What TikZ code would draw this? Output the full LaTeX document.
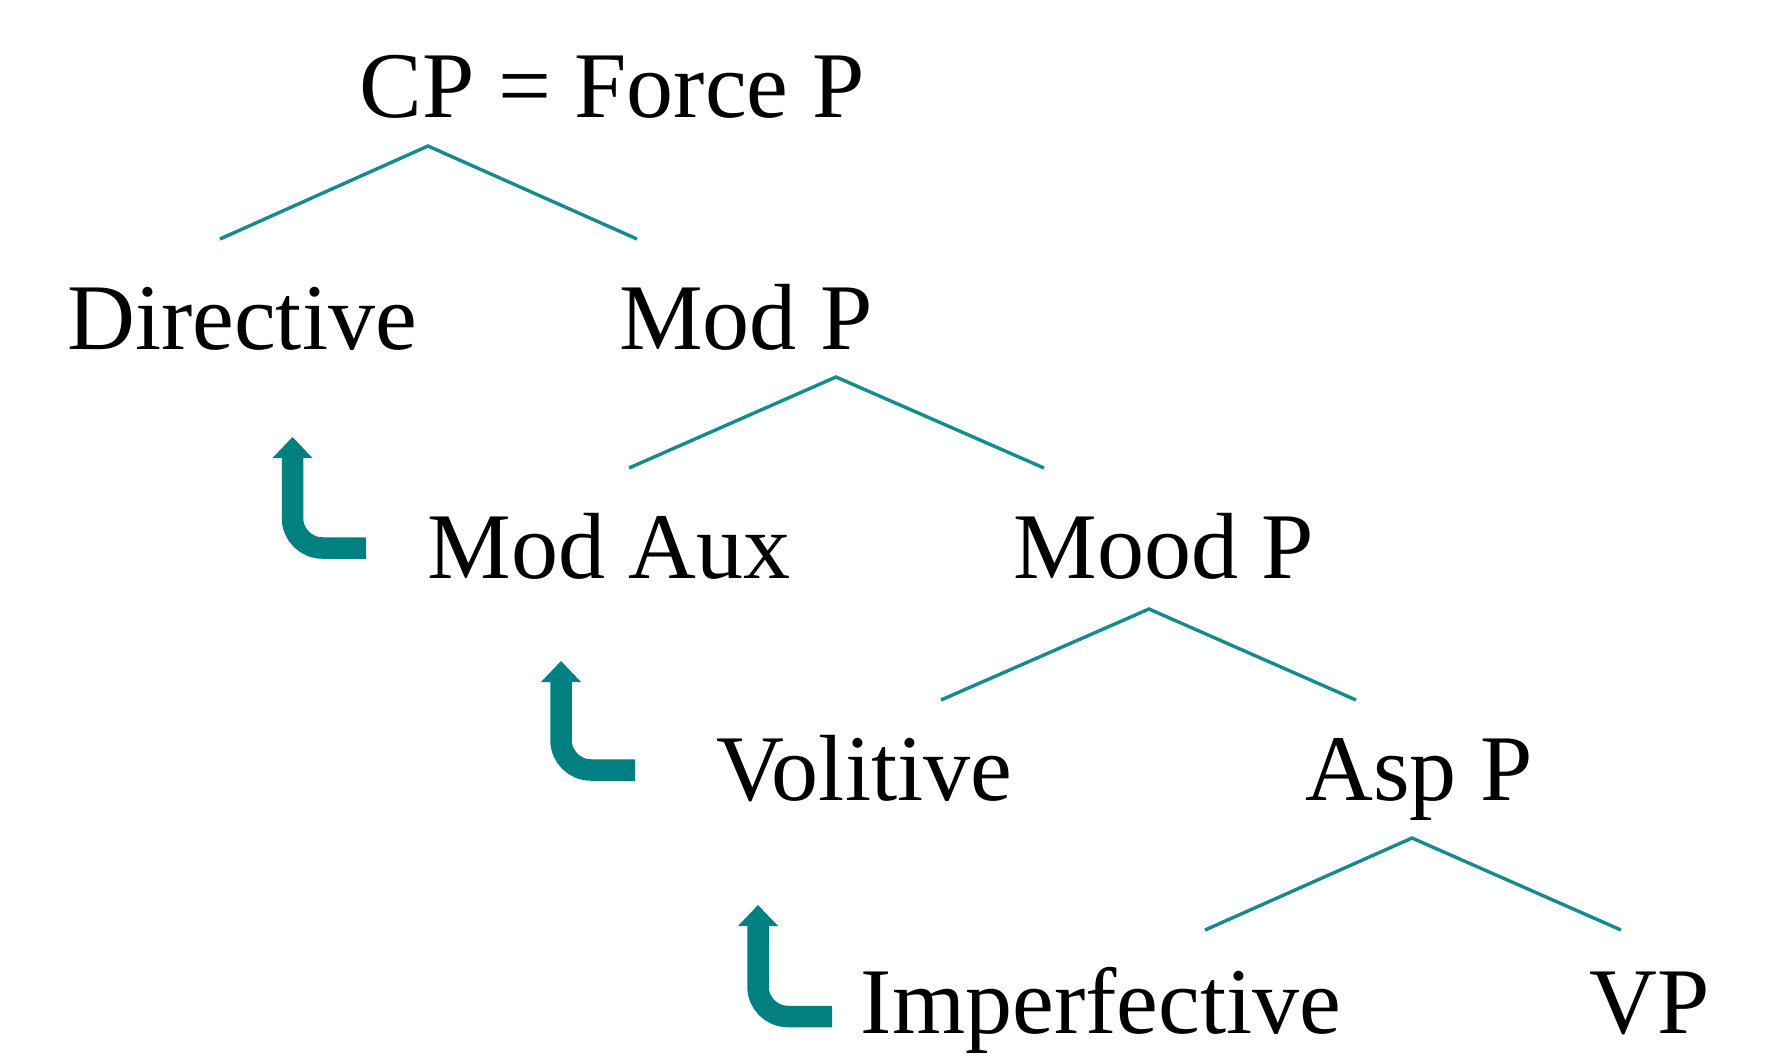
\documentclass[tikz,border=0pt]{standalone}
\usepackage{fontspec}
\setmainfont{Liberation Serif}
\definecolor{tealc}{RGB}{0,128,128}
\definecolor{linec}{RGB}{20,140,140}
\tikzset{
  lbl/.style={anchor=base, inner sep=0pt, font=\fontsize{47pt}{56pt}\selectfont},
  branch/.style={draw=linec, line width=1.7pt},
  bentshaft/.style={draw=tealc, line width=10.75pt, rounded corners=15pt},
  bentheadfill/.style={fill=tealc},
}
\begin{document}
\begin{tikzpicture}[x=0.5pt,y=-0.5pt]
\useasboundingbox (0,0) rectangle (1776,1055);
% labels
\node[lbl] (cp)   at (612,117)  {CP = Force P};
\node[lbl] (dir)  at (242,349)  {Directive};
\node[lbl] (modp) at (746,349)  {Mod P};
\node[lbl] (maux) at (609,578)  {Mod Aux};
\node[lbl] (moodp) at (1164,578) {Mood P};
\node[lbl] (vol)  at (864,800)  {Volitive};
\node[lbl] (aspp) at (1419,800) {Asp P};
\node[lbl] (imp)  at (1101,1033) {Imperfective};
\node[lbl] (vp)   at (1650,1033) {VP};
% branch points
\coordinate (a1) at (428,146); \coordinate (l1) at (220,239); \coordinate (r1) at (637,239);
\coordinate (a2) at (836,377); \coordinate (l2) at (629,468); \coordinate (r2) at (1044,468);
\coordinate (a3) at (1149,609); \coordinate (l3) at (941,700); \coordinate (r3) at (1356,700);
\coordinate (a4) at (1412,838); \coordinate (l4) at (1205,930); \coordinate (r4) at (1621,930);
\draw[branch] (l1) -- (a1) -- (r1);
\draw[branch] (l2) -- (a2) -- (r2);
\draw[branch] (l3) -- (a3) -- (r3);
\draw[branch] (l4) -- (a4) -- (r4);
% bent arrows
\coordinate (e1) at (366,548); \coordinate (h1) at (292.5,458);
\coordinate (e2) at (635,770); \coordinate (h2) at (561,682);
\coordinate (e3) at (832,1016.5); \coordinate (h3) at (758,926);
\draw[bentshaft] (e1) -| (h1);
\fill[bentheadfill] ([xshift=-20*0.5pt]h1) -- ([xshift=20*0.5pt]h1) -- ([yshift=21*0.5pt]h1) -- cycle;
\draw[bentshaft] (e2) -| (h2);
\fill[bentheadfill] ([xshift=-20*0.5pt]h2) -- ([xshift=20*0.5pt]h2) -- ([yshift=21*0.5pt]h2) -- cycle;
\draw[bentshaft] (e3) -| (h3);
\fill[bentheadfill] ([xshift=-20*0.5pt]h3) -- ([xshift=20*0.5pt]h3) -- ([yshift=21*0.5pt]h3) -- cycle;
\end{tikzpicture}
\end{document}
